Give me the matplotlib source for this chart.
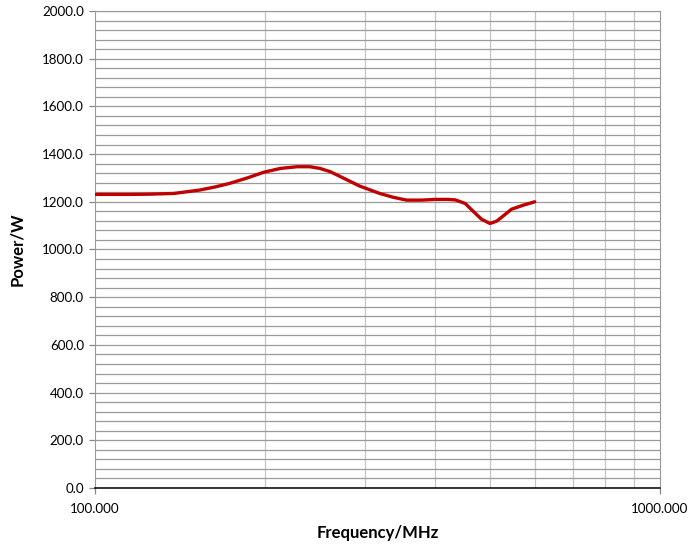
import numpy as np
import matplotlib.pyplot as plt
from matplotlib.ticker import FixedLocator, FuncFormatter, MultipleLocator, NullFormatter

# valores
frecuencia = [100, 115, 125, 138, 153, 163, 173, 186, 199, 213, 228, 240, 250, 261,
              277, 294, 319, 337, 356, 378, 400, 420, 434, 452, 467, 483, 500,
              514, 528, 546, 573, 600]
potencia = [1231, 1231, 1232, 1235, 1249, 1262, 1277, 1300, 1324, 1340, 1347, 1347,
            1340, 1326, 1296, 1266, 1235, 1219, 1207, 1207, 1210, 1210, 1208, 1193,
            1160, 1127, 1109, 1119, 1141, 1169, 1186, 1200]

plt.rcParams['font.family'] = ['Lato', 'DejaVu Sans']

fig = plt.figure(figsize=(6.89, 5.49), dpi=100)
ax = fig.add_axes([0.1379, 0.1111, 0.8201, 0.8689])

ax.plot(frecuencia, potencia, color='#c00000', lw=2.4, solid_capstyle='round',
        solid_joinstyle='round', zorder=3)

ax.set_xscale('log')
ax.set_xlim(100, 1000)
ax.set_ylim(0, 2000)

# rejilla
ax.xaxis.set_major_locator(FixedLocator([100, 1000]))
ax.xaxis.set_minor_locator(FixedLocator([200, 300, 400, 500, 600, 700, 800, 900]))
ax.xaxis.set_major_formatter(FuncFormatter(lambda v, p: f'{v:.3f}'))
ax.xaxis.set_minor_formatter(NullFormatter())
ax.yaxis.set_major_locator(MultipleLocator(200))
ax.yaxis.set_minor_locator(MultipleLocator(40))
ax.yaxis.set_major_formatter(FuncFormatter(lambda v, p: f'{v:.1f}'))

ax.grid(True, which='both', axis='y', color='#9a9a9a', lw=0.9)
ax.grid(True, which='minor', axis='x', color='#c4c4c4', lw=0.9)
ax.set_axisbelow(True)

ax.tick_params(which='major', length=4, width=0.9, color='#888888', labelsize=9.6, pad=4)
ax.tick_params(which='minor', length=0)
ax.tick_params(axis='x', pad=7)

for lado in ['left', 'right', 'top']:
    ax.spines[lado].set_color('#9a9a9a')
ax.spines['bottom'].set_color('black')
ax.spines['bottom'].set_linewidth(1.1)

ax.set_xlabel('Frequency/MHz', fontsize=12, fontweight='bold', labelpad=7)
ax.set_ylabel('Power/W', fontsize=12, fontweight='bold', labelpad=12)

fig.savefig('out.png', dpi=100)
